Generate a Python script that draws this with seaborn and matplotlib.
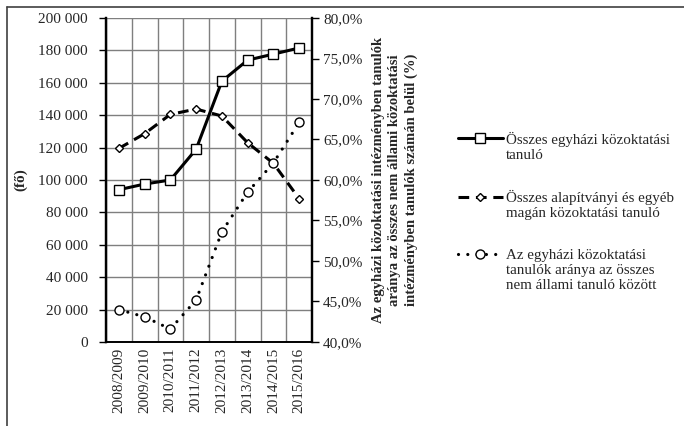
import numpy as np
import pandas as pd
import matplotlib
matplotlib.use("Agg")
import matplotlib.pyplot as plt
import matplotlib.ticker as mticker
from matplotlib.legend_handler import HandlerLine2D
import seaborn as sns

# data
years = ["2008/2009", "2009/2010", "2010/2011", "2011/2012",
         "2012/2013", "2013/2014", "2014/2015", "2015/2016"]
egyhazi = [94000, 97500, 100000, 119000, 161000, 174000, 177700, 181500]
alapitvanyi = [119500, 128600, 140500, 143800, 139500, 123000, 110300, 88500]
arany = [0.440, 0.431, 0.416, 0.452, 0.536, 0.585, 0.621, 0.671]

lab1 = "Összes egyházi közoktatási\ntanuló"
lab2 = "Összes alapítványi és egyéb\nmagán közoktatási tanuló"
lab3 = "Az egyházi közoktatási\ntanulók aránya az összes\nnem állami tanuló között"

df = pd.DataFrame({"x": np.arange(len(years)), "egyhazi": egyhazi,
                   "alapitvanyi": alapitvanyi, "arany": arany})

sns.set_style("white")
plt.rcParams["font.family"] = ["Liberation Serif", "DejaVu Serif"]
plt.rcParams["font.size"] = 11


# legend handle sits at the first text line, not the middle
class TopHandler(HandlerLine2D):
    def __init__(self, shift, **kw):
        super().__init__(**kw)
        self.shift = shift

    def create_artists(self, legend, orig_handle, xdescent, ydescent,
                       width, height, fontsize, trans):
        arts = super().create_artists(legend, orig_handle, xdescent, ydescent,
                                      width, height, fontsize, trans)
        for a in arts:
            a.set_ydata(np.asarray(a.get_ydata()) + self.shift * fontsize)
        return arts


fig = plt.figure(figsize=(6.84, 4.26), dpi=100)
ax = fig.add_axes([106/684, 1-342/426, 206/684, 324/426])
ax2 = ax.twinx()

sns.lineplot(data=df, x="x", y="egyhazi", ax=ax, color="black", lw=2.2,
             marker="s", markersize=6.5, markerfacecolor="white",
             markeredgecolor="black", markeredgewidth=1, label=lab1, legend=False)
sns.lineplot(data=df, x="x", y="alapitvanyi", ax=ax, color="black", lw=2.2,
             marker="D", markersize=4.5, markerfacecolor="white",
             markeredgecolor="black", markeredgewidth=1, label=lab2, legend=False)
ax.lines[-1].set_dashes([3.5, 2.2])
sns.lineplot(data=df, x="x", y="arany", ax=ax2, color="black", lw=2.3,
             marker="o", markersize=6.5, markerfacecolor="white",
             markeredgecolor="black", markeredgewidth=1, label=lab3, legend=False)
ax2.lines[-1].set_dashes([0.01, 2.9])
ax2.lines[-1].set_dash_capstyle("round")

ax.set_xlim(-0.5, len(years) - 0.5)
ax.set_ylim(0, 200000)
ax2.set_ylim(0.40, 0.80)

ax.yaxis.set_major_locator(mticker.MultipleLocator(20000))
ax.yaxis.set_major_formatter(mticker.FuncFormatter(
    lambda v, p: f"{int(v):,}".replace(",", " ")))
ax2.yaxis.set_major_locator(mticker.MultipleLocator(0.05))
ax2.yaxis.set_major_formatter(mticker.FuncFormatter(
    lambda v, p: f"{v*100:.1f}%".replace(".", ",")))

ax.set_xticks(np.arange(-0.5, len(years)), labels=[])
ax.set_xticks(np.arange(len(years)), labels=years, minor=True, rotation=90)
ax.tick_params(axis="x", which="major", direction="out", length=5, width=1, color="black")
ax.tick_params(axis="x", which="minor", length=0, pad=4)
ax.tick_params(axis="y", direction="out", length=5, width=1, color="black", pad=8)
ax2.tick_params(axis="y", direction="out", length=5, width=1, color="black", pad=3)

ax.grid(True, which="major", color="#7f7f7f", lw=1)
ax.set_axisbelow(True)

for a in (ax, ax2):
    a.spines["top"].set_visible(False)
    a.spines["left"].set_linewidth(1.6)
    a.spines["right"].set_linewidth(1.6)
    a.spines["bottom"].set_linewidth(1.2)
    for s in a.spines.values():
        s.set_color("black")

ax.set_xlabel("")
ax.set_ylabel("(fő)", fontweight="bold", labelpad=8)
ax2.set_ylabel("Az egyházi közoktatási intézményben tanulók\n"
               "aránya az összes nem állami közoktatási\n"
               "intézményben tanulók számán belül (%)",
               fontweight="bold", labelpad=7, linespacing=1.3, fontsize=10.5)

handles = ax.lines[:2] + ax2.lines[:1]
fig.legend(handles, [lab1, lab2, lab3], loc="upper left",
           bbox_to_anchor=(444/684, 1-118/426), frameon=False,
           handlelength=3.0, handletextpad=0.2, labelspacing=1.9,
           fontsize=10.8,
           handler_map={handles[0]: TopHandler(0.55),
                        handles[1]: TopHandler(0.55),
                        handles[2]: TopHandler(1.1)})

# outer frame of the chart
fig.add_artist(plt.Line2D([7/684, 1], [1-6.5/426, 1-6.5/426], color="#404040", lw=1.2))
fig.add_artist(plt.Line2D([7/684, 7/684], [0, 1-6.5/426], color="#404040", lw=1.2))

fig.savefig("out.png", dpi=100)
